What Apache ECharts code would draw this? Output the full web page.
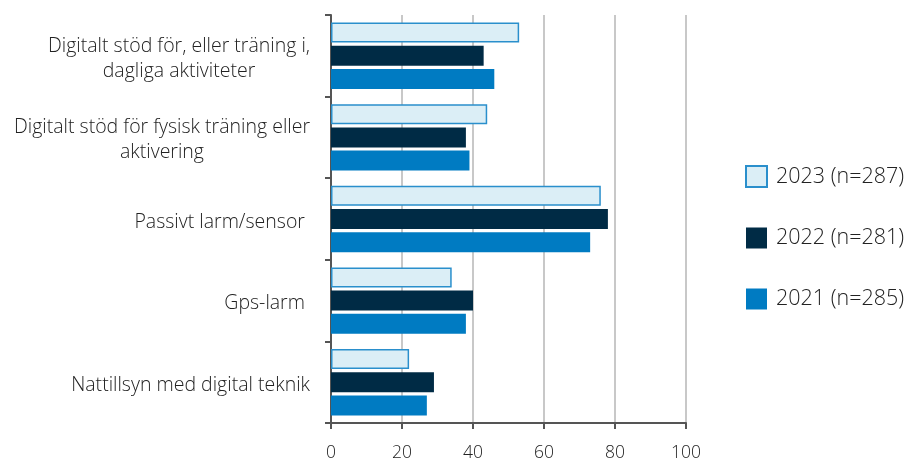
<!DOCTYPE html>
<html>
<head>
<meta charset="utf-8">
<script src="https://cdn.jsdelivr.net/npm/echarts@6/dist/echarts.min.js"></script>
<style>
  html, body { margin: 0; padding: 0; background: #ffffff; }
  #chart { width: 912px; height: 462px; }
</style>
</head>
<body>
<div id="chart"></div>
<script>
// Categories (top to bottom)
const categories = [
  'Digitalt stöd för, eller träning i,\ndagliga aktiviteter',
  'Digitalt stöd för fysisk träning eller\naktivering',
  'Passivt larm/sensor ',
  'Gps-larm ',
  'Nattillsyn med digital teknik'
];

// Share (%) per year
const values2023 = [53, 44, 76, 34, 22];
const values2022 = [43, 38, 78, 40, 29];
const values2021 = [46, 39, 73, 38, 27];

const seriesNames = ['2023 (n=287)', '2022 (n=281)', '2021 (n=285)'];

const FONT = '"Open Sans", "Noto Sans", sans-serif';
const TEXT = '#222222';

const chart = echarts.init(document.getElementById('chart'), null, { renderer: 'canvas' });

const barStyles = [
  { color: '#dbeef6', borderColor: '#2a8fcc', borderWidth: 1.5 },
  { color: '#002b45' },
  { color: '#007bc2' }
];
const seriesValues = [values2023, values2022, values2021];

chart.setOption({
  animation: false,
  backgroundColor: '#ffffff',
  textStyle: { fontFamily: FONT, color: TEXT },
  grid: { left: 331, right: 226, top: 15, bottom: 37, containLabel: false },
  legend: {
    orient: 'vertical',
    left: 745,
    top: 165,
    padding: 0,
    itemWidth: 21,
    itemHeight: 21,
    itemGap: 39,
    icon: 'rect',
    selectedMode: false,
    textStyle: { fontFamily: FONT, fontSize: 21.5, fontWeight: 300, color: TEXT, lineHeight: 21, padding: [0, 0, 0, 4] },
    data: seriesNames
  },
  xAxis: {
    type: 'value',
    min: 0,
    max: 100,
    interval: 20,
    axisLine: { show: true, lineStyle: { color: '#555555', width: 2 } },
    axisTick: { show: true, length: 6, lineStyle: { color: '#555555', width: 2 } },
    splitLine: { show: true, lineStyle: { color: '#c8c8c8', width: 2 } },
    axisLabel: { fontFamily: FONT, fontSize: 17.5, fontWeight: 300, color: TEXT, margin: 21 }
  },
  yAxis: {
    type: 'category',
    inverse: true,
    data: categories,
    axisLine: { show: true, lineStyle: { color: '#555555', width: 2 } },
    axisTick: { show: true, length: 6, lineStyle: { color: '#555555', width: 2 } },
    axisLabel: {
      margin: 21,
      padding: [6, 0, 0, 0],
      formatter: v => '{c|' + v + '}',
      rich: {
        c: { fontFamily: FONT, fontSize: 19.5, fontWeight: 300, lineHeight: 25, color: TEXT, align: 'center' }
      }
    }
  },
  series: seriesNames.map((name, i) => ({
    name,
    type: 'bar',
    data: seriesValues[i],
    barWidth: 20,
    barGap: '16%',
    itemStyle: barStyles[i]
  }))
});
</script>
</body>
</html>
